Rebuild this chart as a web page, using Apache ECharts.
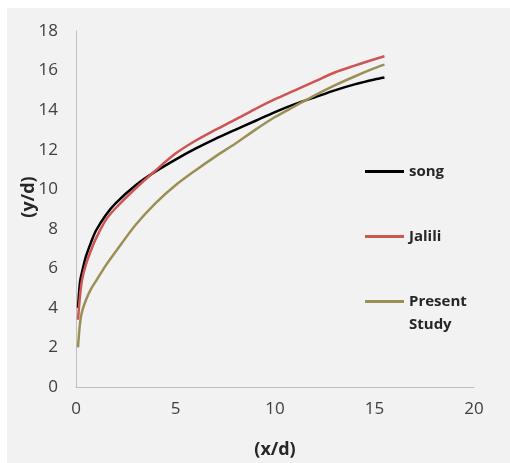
<!DOCTYPE html>
<html>
<head>
<meta charset="utf-8">
<script src="https://cdn.jsdelivr.net/npm/echarts@6/dist/echarts.min.js"></script>
<style>
  html, body { margin: 0; padding: 0; background: #ffffff; }
  #chart { position: absolute; left: 7px; top: 8px; width: 503px; height: 455px; }
</style>
</head>
<body>
<div id="chart"></div>
<script>
// x/d positions where curves were read
var xd = [0.1, 0.2, 0.3, 0.5, 0.75, 1, 1.5, 2, 3, 4, 5, 6, 7, 8, 9, 10, 11, 12, 13, 14, 15, 15.5];
// y/d values
var song = [4.0, 5.3, 5.8, 6.6, 7.3, 7.9, 8.7, 9.3, 10.2, 10.9, 11.5, 12.05, 12.55, 13.0, 13.45, 13.9, 14.3, 14.65, 15.0, 15.3, 15.55, 15.65];
var jalili = [3.4, 4.6, 5.4, 6.2, 6.9, 7.5, 8.45, 9.05, 10.05, 10.95, 11.8, 12.45, 13.0, 13.52, 14.05, 14.55, 15.0, 15.45, 15.9, 16.25, 16.57, 16.72];
var present = [2.0, 3.2, 3.8, 4.4, 4.95, 5.35, 6.15, 6.85, 8.2, 9.3, 10.2, 10.95, 11.65, 12.3, 13.0, 13.65, 14.2, 14.75, 15.25, 15.7, 16.12, 16.3];

function pairs(xs, ys) {
    var out = [];
    for (var i = 0; i < xs.length; i++) out.push([xs[i], ys[i]]);
    return out;
}

var chart = echarts.init(document.getElementById('chart'));

var legendText = {
    fontFamily: 'Open Sans',
    fontWeight: 'bold',
    fontSize: 15,
    color: '#262626',
    lineHeight: 23
};

function legendAt(name, top, fmt) {
    var l = {
        data: [name], left: 358, top: top, orient: 'vertical', padding: 0,
        icon: 'rect', itemWidth: 39, itemHeight: 3, textStyle: legendText
    };
    if (fmt) l.formatter = fmt;
    return l;
}

var options = {
    backgroundColor: '#f2f2f2',
    animation: false,
    grid: {
        left: 69,
        top: 23,
        width: 398,
        height: 356,
        outerBoundsMode: 'none'
    },
    legend: [
        legendAt('song', 152),
        legendAt('Jalili', 217),
        legendAt('Present Study', 259, function () { return '\nPresent\nStudy'; })
    ],
    xAxis: {
        type: 'value',
        min: 0,
        max: 20,
        interval: 5,
        name: '(x/d)',
        nameLocation: 'middle',
        nameGap: 54,
        nameMoveOverlap: false,
        nameTextStyle: {fontFamily: 'Open Sans', fontWeight: 'bold', fontSize: 18, color: '#262626'},
        axisLine: {show: true, lineStyle: {color: '#bfbfbf', width: 1}},
        axisTick: {show: false},
        splitLine: {show: false},
        axisLabel: {fontFamily: 'Open Sans', fontSize: 17, color: '#404040', margin: 14}
    },
    yAxis: {
        type: 'value',
        min: 0,
        max: 18,
        interval: 2,
        name: '(y/d)',
        nameLocation: 'middle',
        nameRotate: 90,
        nameGap: 38,
        nameMoveOverlap: false,
        nameTextStyle: {fontFamily: 'Open Sans', fontWeight: 'bold', fontSize: 18, color: '#262626',
                        padding: [0, 0, 0, 24]},
        axisLine: {show: true, lineStyle: {color: '#bfbfbf', width: 1}},
        axisTick: {show: false},
        splitLine: {show: false},
        axisLabel: {fontFamily: 'Open Sans', fontSize: 17, color: '#404040', margin: 18}
    },
    series: [
        {
            name: 'song',
            type: 'line',
            symbol: 'none',
            smooth: 0.3,
            lineStyle: {color: '#000000', width: 2.5},
            itemStyle: {color: '#000000'},
            data: pairs(xd, song)
        },
        {
            name: 'Jalili',
            type: 'line',
            symbol: 'none',
            smooth: 0.3,
            lineStyle: {color: '#cd5552', width: 2.5},
            itemStyle: {color: '#cd5552'},
            data: pairs(xd, jalili)
        },
        {
            name: 'Present Study',
            type: 'line',
            symbol: 'none',
            smooth: 0.3,
            lineStyle: {color: '#9a9055', width: 2.5},
            itemStyle: {color: '#9a9055'},
            data: pairs(xd, present)
        }
    ]
};

chart.setOption(options);
</script>
</body>
</html>
